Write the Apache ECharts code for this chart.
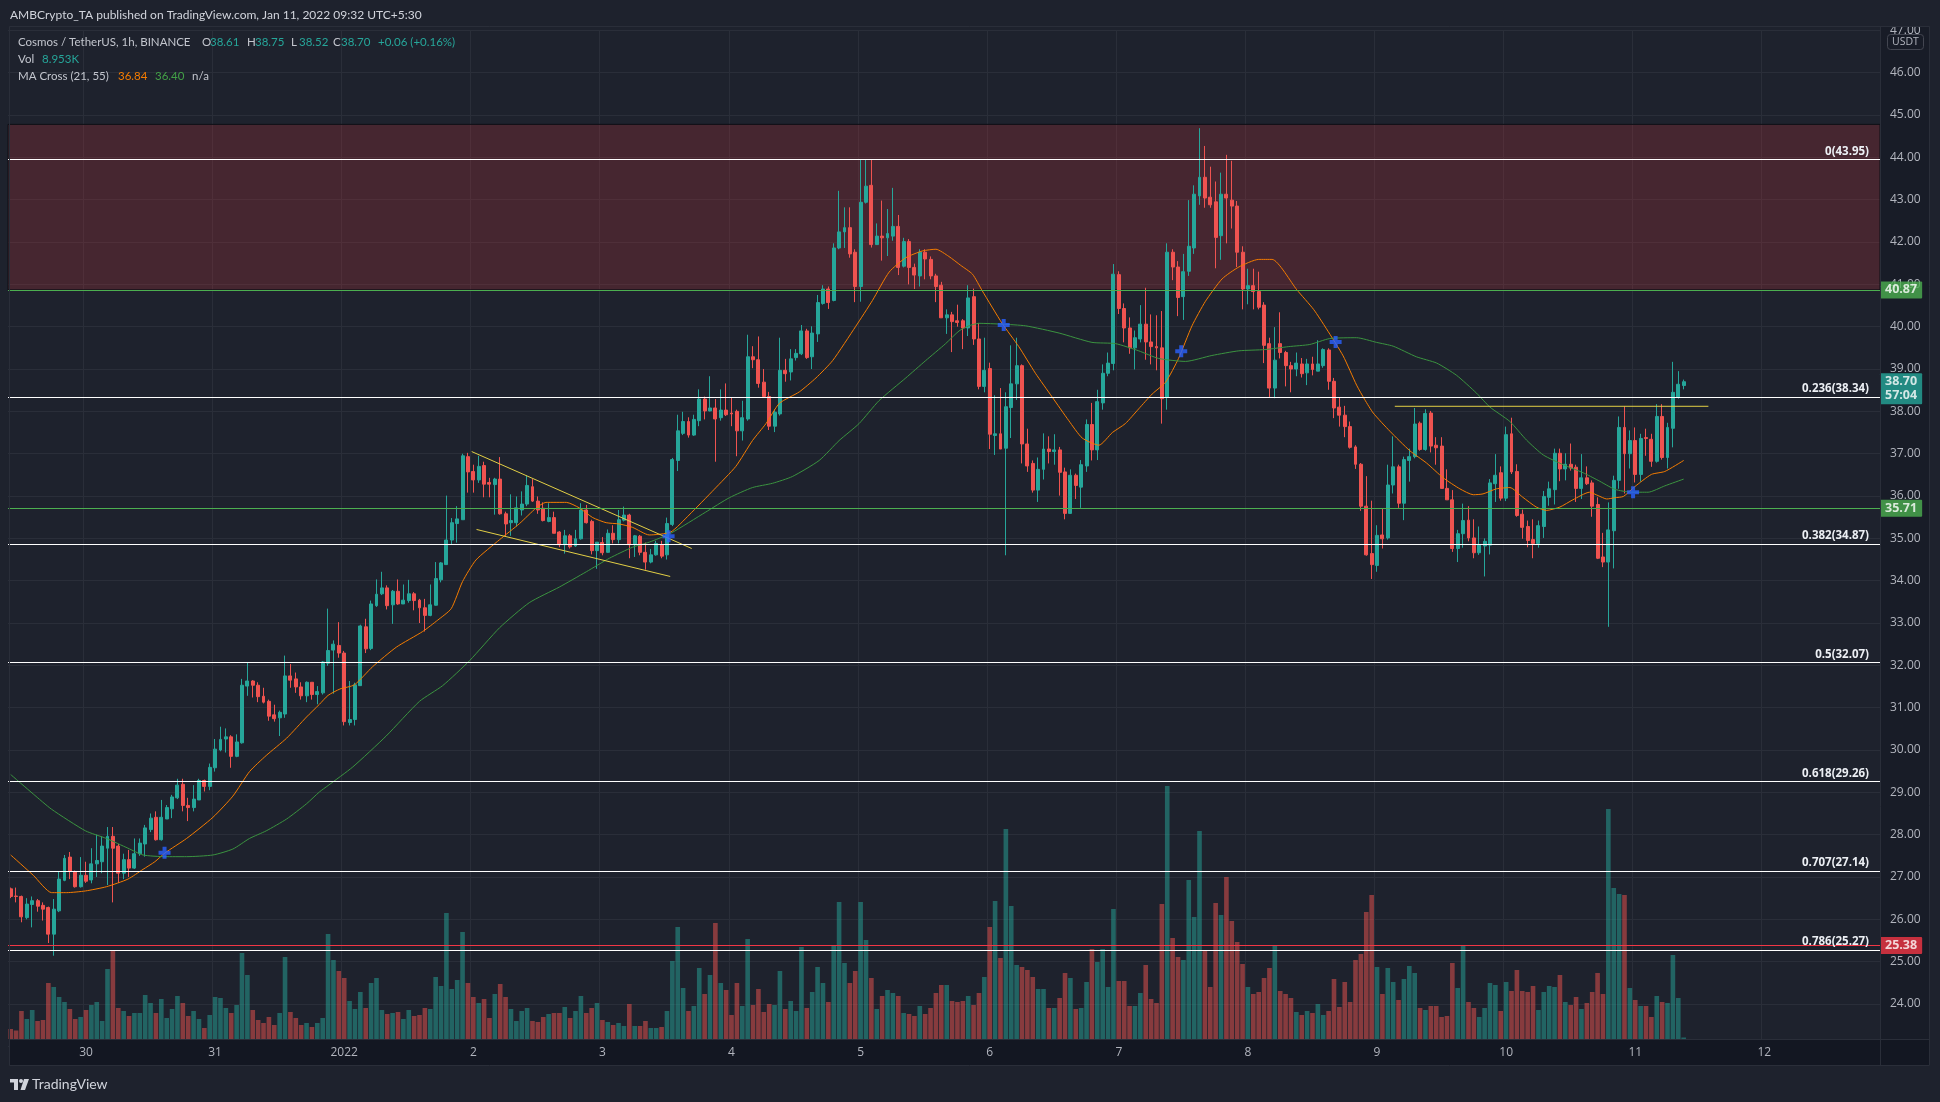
<!DOCTYPE html>
<html>
<head>
<meta charset="utf-8">
<script src="https://cdn.jsdelivr.net/npm/echarts/dist/echarts.min.js"></script>
<style>html,body{margin:0;padding:0;background:#1e222d;}#c{width:1940px;height:1102px;}</style>
</head>
<body>
<div id="c"></div>
<script>
// ---------------- DATA ----------------
// hourly candles, first = Dec 29 10:30 (UTC+5:30), last = Jan 11 08:30
const opens = [
26.72,26.55,26.54,26.04,26.35,26.44,26.33,26.28,25.65,26.20,
26.92,27.47,27.13,26.77,27.04,26.93,27.31,27.36,27.68,27.96,
27.73,27.09,27.41,27.21,27.55,27.78,28.12,28.41,27.88,28.37,
28.61,28.87,29.19,28.69,28.64,28.82,29.28,29.14,29.58,30.00,
30.26,30.31,29.85,30.17,31.51,31.63,31.53,31.27,31.15,30.83,
30.76,30.85,31.75,31.68,31.49,31.28,31.60,31.31,31.35,32.05,
32.36,32.47,32.29,30.65,30.72,31.52,32.91,32.40,33.41,33.69,
33.83,33.43,33.75,33.45,33.53,33.69,33.54,33.36,33.18,33.42,
34.02,34.38,34.96,35.35,35.44,36.93,36.58,36.38,36.72,36.32,
36.27,36.40,35.58,35.37,35.37,35.67,35.81,36.22,35.88,35.71,
35.40,35.49,35.15,34.85,35.06,34.82,34.99,35.67,35.40,34.71,
34.90,34.67,35.12,34.97,35.43,35.55,34.85,35.05,34.67,34.44,
34.61,34.85,34.61,35.33,36.84,37.48,37.76,37.44,37.78,38.29,
38.01,38.08,37.85,38.03,37.96,38.00,37.54,37.82,39.29,39.22,
38.69,38.35,37.65,37.94,38.97,38.93,39.27,39.36,39.90,39.29,
39.83,40.55,40.89,40.62,41.86,42.24,42.34,41.76,40.95,42.94,
43.34,41.94,42.14,42.10,42.14,42.37,41.43,42.01,41.40,41.20,
41.76,41.59,41.20,40.98,40.21,40.28,40.14,40.14,39.97,40.71,
39.71,38.59,39.01,37.43,37.47,37.13,38.09,38.65,39.08,37.23,
36.77,36.14,36.63,37.11,37.05,37.09,36.57,35.59,36.49,36.21,
36.71,37.69,37.09,38.20,38.90,39.13,41.23,40.43,39.97,39.50,
39.71,40.06,39.64,39.53,39.50,38.34,41.76,41.41,40.71,41.31,
41.86,43.09,43.53,43.06,42.95,42.15,43.13,42.99,42.85,41.76,
40.89,40.97,40.83,40.51,39.60,38.55,39.60,39.39,39.08,39.00,
39.12,38.91,39.12,38.95,39.08,39.45,38.71,38.10,37.91,37.64,
37.16,36.75,35.76,34.64,34.36,35.08,35.01,36.26,36.69,35.83,
36.84,36.93,37.72,37.10,37.96,37.20,37.18,36.18,35.91,34.76,
35.11,35.43,35.01,34.66,34.82,34.84,36.29,36.55,35.95,37.47,
36.58,35.57,35.28,34.97,34.88,35.28,35.97,36.15,37.01,36.64,
36.75,36.68,36.18,36.43,36.31,35.80,34.56,34.44,35.18,36.37,
37.62,37.00,37.31,36.51,37.38,37.34,36.82,37.88,36.91,37.60,
38.33,38.61];
const highs = [
26.75,26.75,26.56,26.50,26.54,26.48,26.40,26.30,26.48,27.13,
27.52,27.59,27.15,27.47,27.36,27.68,28.00,27.96,28.18,28.18,
27.78,27.55,27.64,27.91,27.91,28.23,28.50,28.55,28.82,28.70,
28.94,29.32,29.32,28.87,29.17,29.32,29.30,29.68,30.26,30.55,
30.51,30.35,30.37,31.68,32.06,31.65,31.60,31.47,31.19,31.07,
30.93,32.23,32.03,31.83,31.60,31.62,31.60,31.51,32.10,33.34,
32.59,33.02,32.34,31.63,31.59,32.96,33.10,33.53,34.03,34.21,
33.89,33.78,34.03,33.91,34.02,33.73,33.57,33.57,33.91,34.44,
34.44,36.01,35.48,35.76,37.00,37.02,36.74,36.95,36.81,36.43,
36.43,36.92,35.63,36.04,35.99,36.11,36.49,36.40,35.99,35.85,
35.83,35.63,35.17,35.20,35.10,35.20,35.83,35.79,35.44,34.91,
35.03,35.21,35.31,35.67,35.75,35.58,35.08,35.08,34.90,34.75,
34.94,34.94,35.49,36.90,37.92,37.99,37.86,37.92,38.52,38.35,
38.83,38.29,38.52,38.66,38.32,38.04,38.25,39.81,39.54,39.77,
39.00,38.46,38.05,39.74,39.24,39.47,39.47,40.04,39.95,40.01,
40.75,40.98,40.95,41.97,43.21,42.82,42.82,41.83,43.95,43.95,
43.95,42.44,42.98,42.78,43.28,42.64,42.10,42.07,41.49,41.83,
41.83,41.66,41.25,41.06,40.41,40.35,40.52,40.18,40.98,40.90,
40.09,39.74,39.15,38.38,38.55,38.45,39.56,39.74,39.11,37.59,
36.84,36.91,37.48,37.41,37.46,37.16,36.67,36.63,36.53,36.85,
37.81,38.20,38.51,39.11,39.39,41.48,41.31,40.55,40.22,39.91,
40.51,40.92,40.29,40.27,40.37,41.97,41.83,41.55,41.72,42.99,
43.34,44.69,44.27,43.78,43.43,43.64,44.06,43.92,42.97,41.90,
41.37,41.37,41.30,40.58,39.74,39.99,40.34,39.43,39.17,39.39,
39.26,39.24,39.29,39.68,39.49,39.49,38.79,38.33,38.13,37.76,
37.20,36.78,36.47,35.89,35.31,35.70,36.74,37.41,36.74,36.93,
37.12,38.08,37.76,38.05,38.01,37.39,37.39,36.63,36.14,35.20,
35.82,35.76,35.45,35.28,35.00,36.40,36.99,36.70,37.64,37.85,
36.75,35.68,35.42,35.45,35.42,36.12,36.34,37.12,37.12,37.01,
37.24,36.74,36.99,36.70,36.37,35.97,35.13,35.85,36.48,37.88,
38.12,37.55,37.62,37.47,37.59,37.47,38.17,38.17,37.73,39.17,
38.95,38.75];
const lows = [
26.50,26.40,25.93,26.00,25.81,26.18,25.97,25.44,25.14,26.17,
26.90,26.95,26.75,26.75,26.86,26.85,27.00,27.09,26.81,26.40,
26.86,26.95,27.00,27.19,27.50,27.48,28.06,27.86,27.86,28.37,
28.39,28.84,28.55,28.32,28.55,28.82,29.02,29.05,29.49,29.97,
29.94,29.58,29.83,30.15,31.28,31.24,31.13,31.10,30.69,30.67,
30.33,30.76,31.47,31.35,31.19,31.13,31.19,31.08,31.31,31.99,
31.33,32.18,30.58,30.58,30.58,31.52,32.29,32.36,33.38,33.66,
33.32,32.98,33.43,33.45,33.48,33.30,33.00,32.80,33.16,33.41,
33.96,34.37,34.86,34.90,35.44,36.08,36.08,36.31,35.97,35.97,
35.56,35.56,35.06,35.06,35.28,35.54,35.76,35.86,35.58,35.40,
35.38,35.12,34.79,34.64,34.76,34.80,34.97,35.35,34.62,34.28,
34.60,34.66,34.88,34.88,35.40,34.53,34.56,34.60,34.26,34.41,
34.59,34.53,34.50,35.29,36.59,37.44,37.38,37.42,37.65,37.81,
38.00,36.81,37.78,37.89,37.65,36.94,37.31,37.78,39.02,38.56,
38.32,37.56,37.51,37.90,38.70,38.73,39.20,39.33,39.24,39.00,
39.64,40.52,40.42,40.60,41.83,41.86,41.63,40.58,40.59,42.91,
41.87,41.93,41.56,41.67,42.03,41.22,41.40,41.00,40.89,40.95,
41.12,41.12,40.58,40.21,39.83,39.40,40.00,39.47,39.78,39.57,
38.52,38.45,37.11,36.97,37.11,34.60,37.37,38.27,36.77,36.57,
36.08,35.86,36.39,36.77,36.74,36.01,35.45,35.58,35.93,35.72,
36.57,36.84,36.85,38.04,38.83,38.97,40.30,39.63,39.36,38.99,
39.63,39.22,39.11,38.97,37.71,38.04,41.10,40.25,40.16,41.20,
41.72,42.88,42.81,42.81,41.38,41.58,41.97,42.32,41.41,40.41,
40.53,40.41,40.41,39.14,38.34,38.31,39.25,38.59,38.45,38.83,
38.80,38.62,38.85,38.95,39.03,38.51,37.84,37.64,37.39,37.12,
36.64,35.65,34.59,34.04,34.21,34.76,34.97,36.06,35.72,35.43,
36.34,36.89,37.07,37.07,37.03,36.74,36.18,35.91,34.68,34.44,
34.78,34.93,34.53,34.61,34.10,34.62,35.86,35.89,35.88,36.52,
35.51,34.99,34.79,34.53,34.78,35.01,35.77,35.80,36.35,36.37,
36.60,35.86,35.93,36.26,35.51,34.51,34.32,32.91,34.29,36.17,
36.06,36.65,36.32,36.34,36.95,36.69,36.79,36.86,36.65,37.15,
38.30,38.52];
const closes = [
26.54,26.54,26.06,26.36,26.44,26.31,26.24,25.65,26.24,26.95,
27.44,27.13,26.77,27.04,26.90,27.31,27.39,27.73,27.96,27.68,
27.09,27.41,27.21,27.55,27.80,28.16,28.39,27.88,28.41,28.64,
28.89,29.17,28.69,28.64,28.84,29.28,29.14,29.59,30.02,30.25,
30.31,29.85,30.19,31.53,31.63,31.53,31.26,31.13,30.80,30.74,
30.89,31.75,31.65,31.49,31.28,31.60,31.31,31.38,32.08,32.35,
32.50,32.29,30.67,30.72,31.54,32.93,32.39,33.45,33.68,33.83,
33.41,33.75,33.45,33.54,33.69,33.53,33.36,33.18,33.43,34.05,
34.42,34.96,35.37,35.46,36.95,36.57,36.38,36.70,36.28,36.28,
36.40,35.58,35.34,35.42,35.72,35.81,36.25,35.88,35.67,35.42,
35.49,35.12,34.85,35.06,34.80,34.99,35.67,35.37,34.71,34.91,
34.66,35.12,34.97,35.44,35.55,34.85,35.06,34.67,34.44,34.61,
34.88,34.58,35.35,36.86,37.54,37.76,37.44,37.81,38.29,38.01,
38.08,37.82,38.03,37.92,37.94,37.54,37.85,39.29,39.22,38.66,
38.35,37.65,37.98,38.97,38.89,39.24,39.37,39.90,39.27,39.85,
40.57,40.89,40.57,41.86,42.24,42.34,41.72,40.95,42.94,43.32,
41.94,42.14,42.10,42.20,42.37,41.40,42.01,41.40,41.22,41.76,
41.60,41.20,40.95,40.21,40.28,40.12,40.10,39.97,40.68,39.71,
38.59,38.97,37.46,37.47,37.11,38.11,38.65,39.08,37.23,36.71,
36.14,36.63,37.11,37.05,37.09,36.56,35.59,36.49,36.25,36.74,
37.69,37.09,38.23,38.90,39.14,41.24,40.43,39.97,39.50,39.74,
40.06,39.64,39.53,39.50,38.30,41.76,41.41,40.69,41.30,41.90,
43.13,43.53,43.04,42.88,42.11,43.13,43.04,42.85,41.76,40.89,
40.97,40.83,40.46,39.56,38.55,39.21,39.39,39.08,39.00,39.14,
38.89,39.12,38.99,39.12,39.46,38.71,38.08,37.91,37.64,37.15,
36.75,35.76,34.61,34.38,35.07,34.99,36.26,36.69,35.83,36.86,
36.93,37.70,37.10,37.95,37.18,37.14,36.18,35.91,34.76,35.11,
35.42,35.01,34.66,34.84,34.93,36.31,36.49,35.95,37.45,36.57,
35.54,35.26,34.95,34.88,35.30,35.99,36.17,37.01,36.64,36.75,
36.66,36.18,36.43,36.29,35.76,34.53,34.44,35.20,36.37,37.62,
37.00,37.31,36.51,37.36,37.36,36.82,37.88,36.91,37.62,38.45,
38.64,38.70];
// volume (relative units, read as bar heights)
const volumes = [
10,8.5,28,20,29,18,19,56,52,42, 37,30,20,22,29,34,37,18,70,88,
31,28,23,26,26,44,36,26,40,21, 30,43,36,23,28,20,11,24,42,41,
31,26,34,86,64,29,19,16,22,14, 26,82,27,21,14,16,12,16,21,105,
79,68,61,38,30,47,31,56,61,29, 25,26,27,20,29,23,24,31,30,62,
53,126,50,59,107,56,42,36,40,21, 45,55,42,30,18,28,31,18,17,22,
25,26,26,32,21,28,43,26,31,36, 19,17,14,16,13,35,13,13,18,11,
11,12,28,78,112,51,28,33,71,45, 64,116,56,49,24,56,33,100,34,50,
27,35,34,68,30,38,28,92,31,47, 72,56,37,93,137,76,56,68,137,99,
61,30,43,49,46,43,26,25,23,33, 25,31,46,54,54,38,37,38,43,34,
46,62,112,138,81,210,133,74,72,69, 62,50,50,31,31,41,66,61,30,31,
57,90,77,90,52,130,58,58,33,33, 46,74,40,36,135,253,101,82,79,159,
122,208,88,52,136,124,162,118,97,75, 52,45,47,61,71,93,48,45,41,27,
24,28,26,35,24,28,60,32,57,37, 79,85,127,144,72,45,71,57,39,60,
73,66,31,29,33,33,22,23,76,51, 94,37,31,22,31,56,54,28,57,48,
69,48,47,53,29,47,53,52,64,37, 34,42,30,36,47,66,45,230,151,145,
144,51,39,33,33,22,43,37,36,84, 41,1.5];
// moving averages: [candle index, value]
const ma21Points = [[0,27.52],[4.2,27.04],[7.6,26.63],[10.4,26.63],[13.9,26.67],[17.8,26.77],[21.8,26.95],[24.6,27.18],[26.8,27.36],[28.7,27.57],[32.7,27.91],[37.6,28.41],[41.3,28.91],[44.4,29.49],[47.5,29.87],[51.3,30.28],[55.0,30.78],[57.4,31.08],[59.0,31.29],[61.2,31.44],[63.9,31.54],[67.3,31.97],[71.7,32.43],[76.6,32.80],[79.4,33.07],[81.9,33.34],[84.0,33.98],[86.5,34.49],[90.9,34.97],[94.6,35.35],[97.7,35.72],[99.5,35.85],[103.3,35.85],[105.7,35.72],[108.2,35.49],[110.7,35.37],[113.1,35.34],[115.6,35.26],[118.7,35.08],[122.7,35.15],[126.1,35.55],[130.8,36.16],[134.8,36.70],[137.9,37.31],[140.4,37.71],[142.9,38.19],[146.6,38.46],[149.7,38.79],[152.8,39.20],[157.1,40.01],[160.2,40.62],[163.3,41.29],[166.4,41.63],[169.5,41.79],[172.0,41.83],[174.4,41.66],[176.6,41.45],[178.8,41.24],[180.6,40.85],[184.3,40.08],[187.4,39.53],[190.5,38.90],[193.6,38.34],[196.7,37.78],[199.2,37.37],[202.3,37.20],[204.8,37.50],[207.2,37.71],[209.7,38.06],[212.2,38.41],[214.7,38.69],[217.1,39.25],[219.6,40.02],[222.1,40.60],[225.2,41.13],[228.3,41.41],[232.0,41.59],[234.5,41.59],[239.1,40.87],[242.2,40.41],[244.6,39.95],[247.7,39.31],[250.2,38.62],[251.7,38.28],[253.3,37.96],[256.4,37.53],[260.1,37.07],[263.2,36.78],[266.3,36.43],[269.4,36.17],[271.9,36.03],[273.7,36.05],[276.2,36.17],[278.7,36.20],[281.1,35.97],[283.6,35.74],[285.5,35.66],[288.0,35.74],[290.4,35.91],[293.5,36.09],[295.1,36.01],[296.7,35.93],[298.2,35.96],[299.8,35.99],[301.9,36.22],[305.0,36.51],[307.5,36.58],[311,36.84]];
const ma55Points = [[0,29.42],[4.2,28.96],[7.6,28.60],[13.9,28.09],[17.8,27.91],[21.8,27.68],[24.6,27.52],[28.7,27.48],[32.7,27.48],[37.6,27.52],[41.3,27.66],[44.4,27.91],[47.5,28.09],[51.3,28.37],[55.0,28.73],[57.4,29.01],[59.0,29.16],[63.6,29.60],[69.8,30.33],[76.0,31.15],[80.3,31.52],[85.3,32.11],[90.9,32.89],[96.4,33.48],[102.0,33.85],[107.0,34.21],[111.3,34.53],[115.6,34.79],[118.7,34.91],[122.7,35.12],[129.2,35.62],[133.6,35.96],[137.9,36.20],[141.6,36.30],[145.3,36.46],[150.3,36.84],[154.0,37.31],[157.7,37.71],[161.4,38.25],[166.4,38.79],[170.1,39.20],[173.8,39.60],[176.3,39.90],[178.1,40.02],[180.0,40.08],[184.3,40.06],[188.7,40.02],[194.9,39.85],[201.0,39.63],[205.4,39.60],[209.7,39.43],[213.4,39.25],[218.4,39.18],[223.3,39.32],[228.3,39.43],[233.2,39.46],[237.6,39.53],[241.5,39.58],[245.2,39.72],[250.2,39.74],[253.9,39.63],[257.0,39.54],[261.3,39.29],[265.1,39.14],[268.8,38.85],[272.5,38.43],[275.0,38.10],[278.7,37.76],[281.8,37.32],[284.9,36.97],[288.6,36.74],[292.3,36.55],[295.1,36.37],[298.2,36.16],[301.3,36.09],[304.4,36.09],[307.5,36.24],[311,36.40]];
const maCrosses = [[28.6,27.57],[122.3,35.05],[184.6,40.04],[217.6,39.42],[246.3,39.64],[301.6,36.09]];
// drawings
const fibRatios = ['0','0.236','0.382','0.5','0.618','0.707','0.786'];
const fibPrices = [43.95,38.34,34.87,32.07,29.26,27.14,25.27];
const greenLevels = [40.87,35.71];
const redLevel = 25.38;
const supplyZone = [40.87,44.78];
const pennantUpper = [[85.7,37.05],[126.6,34.76]];
const pennantLower = [[86.6,35.21],[122.6,34.10]];
const resistanceLine = [[257.3,38.12],[315.6,38.12]];
// axis
const dayLabels = ['30','31','2022','2','3','4','5','6','7','8','9','10','11','12'];
const firstMidnightIdx = 14;      // first candle after Dec 30 00:00
const slotCount = 348;            // hourly slots shown (incl. empty future space)
const priceMin = 23, priceMax = 47, priceStep = 1;
// legend texts
const headerTitle = 'AMBCrypto_TA published on TradingView.com, Jan 11, 2022 09:32 UTC+5:30';
const symbolTitle = 'Cosmos / TetherUS, 1h, BINANCE';
const changeText = '+0.06 (+0.16%)';
const volText = '8.953K';
const maTitle = 'MA Cross (21, 55)';
const countdown = '57:04';

// ---------------- CHART ----------------
const FONT = '"Open Sans","Noto Sans",sans-serif';
const LFONT = 'Lato,"Open Sans",sans-serif';
const LSIZE = '11.5px ';
const cats = [];
for (let i = 0; i < slotCount; i++) cats.push(String(i));
function dayLabelAt(i) {
  const k = (i - firstMidnightIdx) / 24;
  return (Number.isInteger(k) && k >= 0 && k < dayLabels.length) ? dayLabels[k] : null;
}
const candleData = opens.map((o, i) => [o, closes[i], lows[i], highs[i]]);
const volData = volumes.map((v, i) => ({
  value: v,
  itemStyle: { color: closes[i] >= opens[i] ? 'rgba(38,166,154,0.5)' : 'rgba(239,83,80,0.5)' }
}));
const lastClose = closes[closes.length - 1];
const axisTags = [
  { price: greenLevels[0], text: greenLevels[0].toFixed(2), color: '#4caf50', dy: 0 },
  { price: lastClose, text: lastClose.toFixed(2) + '\n' + countdown, color: '#26a69a', dy: 7 },
  { price: greenLevels[1], text: greenLevels[1].toFixed(2), color: '#4caf50', dy: 0 },
  { price: redLevel, text: redLevel.toFixed(2), color: '#f23645', dy: 0 }
];
function txt(x, y, text, fill, font) {
  return { type: 'text', silent: true, z: 20, x: x, y: y,
    style: { text: text, fill: fill, font: font || (LSIZE + LFONT), textVerticalAlign: 'middle', verticalAlign: 'middle' } };
}

const chart = echarts.init(document.getElementById('c'), null, { width: 1940, height: 1102 });

const yellow = '#e3cf45';
const gray = '#c3c6ce', teal = '#26a69a';
const legendOHLC = [['O', opens, 202], ['H', highs, 247], ['L', lows, 291], ['C', closes, 333]];
const option = {
  backgroundColor: '#1e222d',
  animation: false,
  grid: [
    { left: 8, right: 60, top: 30.4, bottom: 55.7 },
    { left: 8, right: 60, top: 739, bottom: 63 }
  ],
  xAxis: [
    { type: 'category', gridIndex: 0, data: cats, boundaryGap: true,
      axisLine: { show: false }, axisTick: { show: false }, axisLabel: { show: false },
      splitLine: { show: true, interval: (i) => dayLabelAt(i) !== null, lineStyle: { color: '#2a2e39', width: 1 } } },
    { type: 'value', gridIndex: 0, min: -0.5, max: slotCount - 0.5, show: false },
    { type: 'category', gridIndex: 1, data: cats, boundaryGap: true, z: 20,
      axisLine: { show: false }, axisTick: { show: false }, splitLine: { show: false },
      axisLabel: { interval: (i) => dayLabelAt(i) !== null, formatter: (v, i) => dayLabelAt(i) || '',
        color: '#b2b5be', fontSize: 12, fontFamily: FONT, margin: 8 } }
  ],
  yAxis: [
    { type: 'value', gridIndex: 0, min: priceMin, max: priceMax, interval: priceStep, position: 'right',
      axisLine: { show: false }, axisTick: { show: false }, axisLabel: { show: false },
      splitLine: { show: true, lineStyle: { color: '#2a2e39', width: 1 } } },
    { type: 'value', gridIndex: 0, min: priceMin, max: priceMax, interval: priceStep, position: 'right', z: 5,
      axisLine: { show: false }, axisTick: { show: false }, splitLine: { show: false },
      axisLabel: { color: '#b2b5be', fontSize: 12, fontFamily: FONT, margin: 10, showMinLabel: false,
        formatter: (v) => v.toFixed(2) } },
    { type: 'value', gridIndex: 1, min: 0, max: 300, show: false, splitLine: { show: false } }
  ],
  series: [
    { type: 'line', xAxisIndex: 1, yAxisIndex: 0, data: [], z: 1, silent: true,
      markArea: { silent: true,
        itemStyle: { color: 'rgba(180,50,60,0.27)', borderColor: '#0c0e14', borderWidth: 1 },
        data: [[{ yAxis: supplyZone[0] }, { yAxis: supplyZone[1] }]] } },
    { type: 'bar', xAxisIndex: 2, yAxisIndex: 2, data: volData, barWidth: '86%', z: 1, silent: true },
    { type: 'candlestick', xAxisIndex: 0, yAxisIndex: 0, data: candleData, barWidth: 3.4, z: 2, silent: true,
      itemStyle: { color: '#26a69a', color0: '#ef5350', borderColor: '#26a69a', borderColor0: '#ef5350', borderWidth: 1 } },
    { type: 'line', xAxisIndex: 1, yAxisIndex: 0, data: ma21Points, showSymbol: false, smooth: 0.2, z: 3, silent: true,
      lineStyle: { color: '#f57c00', width: 1 } },
    { type: 'line', xAxisIndex: 1, yAxisIndex: 0, data: ma55Points, showSymbol: false, smooth: 0.2, z: 3, silent: true,
      lineStyle: { color: '#3b9440', width: 1 } },
    { type: 'line', xAxisIndex: 1, yAxisIndex: 0, data: [], z: 4, silent: true,
      markLine: { silent: true, symbol: ['none', 'none'], animation: false,
        data: fibPrices.map((p, i) => ({
          yAxis: p,
          lineStyle: { color: '#ffffff', width: 1, type: 'solid' },
          label: { show: true, position: 'insideEndTop', distance: [11, 2],
            formatter: fibRatios[i] + '(' + p.toFixed(2) + ')',
            color: '#eceff4', fontSize: 11.5, fontWeight: 'bold', fontFamily: FONT }
        })).concat(greenLevels.map(p => ({ yAxis: p, lineStyle: { color: '#4caf50', width: 1, type: 'solid' }, label: { show: false } })))
          .concat([{ yAxis: redLevel, lineStyle: { color: '#f23645', width: 1, type: 'solid' }, label: { show: false } }])
      } },
    { type: 'line', xAxisIndex: 1, yAxisIndex: 0, data: pennantUpper, showSymbol: false, z: 4, silent: true,
      lineStyle: { color: yellow, width: 1 } },
    { type: 'line', xAxisIndex: 1, yAxisIndex: 0, data: pennantLower, showSymbol: false, z: 4, silent: true,
      lineStyle: { color: yellow, width: 1 } },
    { type: 'line', xAxisIndex: 1, yAxisIndex: 0, data: resistanceLine, showSymbol: false, z: 4, silent: true,
      lineStyle: { color: yellow, width: 1 } },
    { type: 'scatter', xAxisIndex: 1, yAxisIndex: 0, data: maCrosses, z: 6, silent: true,
      symbol: 'path://M4,0H8V4H12V8H8V12H4V8H0V4H4Z', symbolSize: 12, itemStyle: { color: '#2962ff' } },
    { type: 'scatter', xAxisIndex: 1, yAxisIndex: 0, clip: false, z: 8, silent: true, symbolSize: 0,
      data: axisTags.map(t => ({
        value: [slotCount - 0.5, t.price],
        label: { backgroundColor: t.color, formatter: t.text, offset: [0, t.dy] }
      })),
      label: { show: true, position: 'right', distance: 0, color: '#ffffff', fontSize: 12.5, fontWeight: 'bold',
        fontFamily: FONT, padding: [2, 5, 1, 5], lineHeight: 14, borderRadius: 1 } }
  ],
  graphic: { elements: [
    { type: 'rect', silent: true, z: 1, shape: { x: 1880, y: 27, width: 50, height: 1012 }, style: { fill: '#181c27' } },
    { type: 'rect', silent: true, z: 10, shape: { x: 10, y: 1039, width: 1920, height: 27 }, style: { fill: '#131722' } },
    { type: 'rect', silent: true, z: 10, shape: { x: 1880, y: 0, width: 60, height: 27 }, style: { fill: '#1e222d' } },
    { type: 'rect', silent: true, z: 11, shape: { x: 1887.5, y: 34.5, width: 36, height: 15, r: 3 },
      style: { fill: '#181c27', stroke: '#434651', lineWidth: 1 } },
    { type: 'text', silent: true, z: 12, x: 1905.5, y: 42.5,
      style: { text: 'USDT', fill: '#b2b5be', font: '10.5px ' + FONT, textAlign: 'center', textVerticalAlign: 'middle', align: 'center', verticalAlign: 'middle' } },
    { type: 'rect', silent: true, z: 12, shape: { x: 9.5, y: 26.5, width: 1920, height: 1039 },
      style: { fill: 'none', stroke: '#2a2e39', lineWidth: 1 } },
    { type: 'line', silent: true, z: 12, shape: { x1: 1880.5, y1: 27, x2: 1880.5, y2: 1066 }, style: { stroke: '#2a2e39', lineWidth: 1 } },
    { type: 'line', silent: true, z: 12, shape: { x1: 10, y1: 1039.5, x2: 1930, y2: 1039.5 }, style: { stroke: '#2a2e39', lineWidth: 1 } },
    // header + legend
    txt(10, 15, headerTitle, '#d1d4dc', '12px ' + LFONT),
    txt(18, 42, symbolTitle, gray),
    ...legendOHLC.flatMap(p => [
      txt(p[2], 42, p[0], gray),
      txt(p[2] + 8, 42, p[1][p[1].length - 1].toFixed(2), teal)
    ]),
    txt(378, 42, changeText, teal),
    txt(18, 59, 'Vol', gray),
    txt(42, 59, volText, teal),
    txt(18, 76, maTitle, gray),
    txt(118, 76, ma21Points[ma21Points.length - 1][1].toFixed(2), '#f57c00'),
    txt(155, 76, ma55Points[ma55Points.length - 1][1].toFixed(2), '#43a047'),
    txt(192, 76, 'n/a', gray),
    // TradingView logo
    { type: 'rect', silent: true, z: 20, shape: { x: 10, y: 1079, width: 8, height: 3.5 }, style: { fill: '#d1d4dc' } },
    { type: 'rect', silent: true, z: 20, shape: { x: 14, y: 1079, width: 4, height: 11 }, style: { fill: '#d1d4dc' } },
    { type: 'circle', silent: true, z: 20, shape: { cx: 21, cy: 1081, r: 2 }, style: { fill: '#d1d4dc' } },
    { type: 'polygon', silent: true, z: 20, shape: { points: [[24, 1079], [29, 1079], [25, 1090], [20.5, 1090]] }, style: { fill: '#d1d4dc' } },
    txt(32, 1084, 'TradingView', '#d1d4dc', '14px ' + LFONT)
  ] }
};
chart.setOption(option);
</script>
</body>
</html>
